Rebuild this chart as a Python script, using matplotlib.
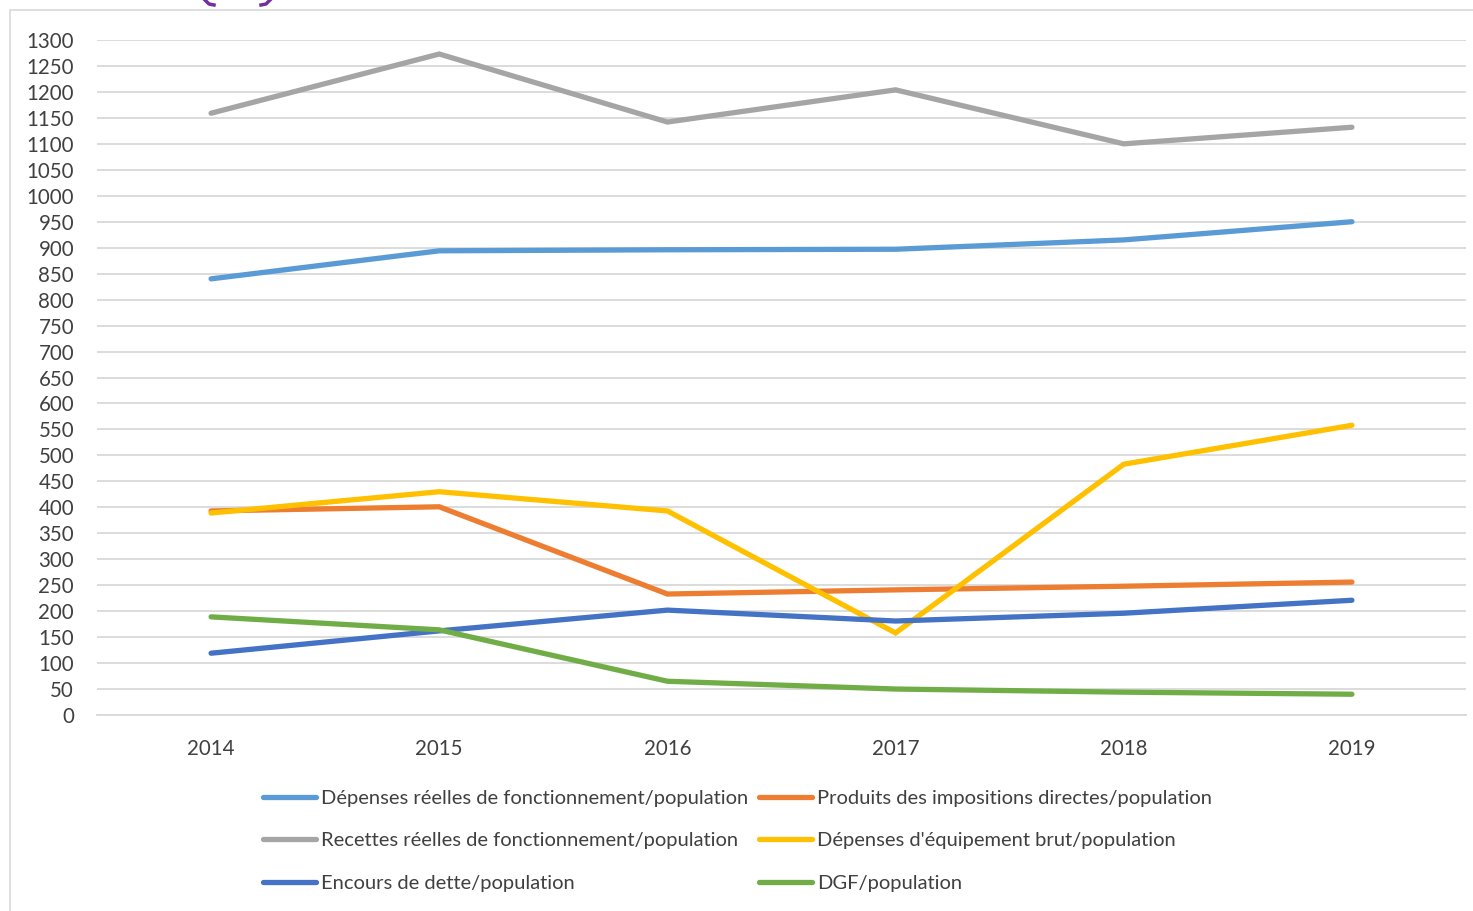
import matplotlib.pyplot as plt
from matplotlib.lines import Line2D
from matplotlib.patches import Rectangle

plt.rcParams['font.family'] = ['Lato', 'DejaVu Sans']

annees = ['2014', '2015', '2016', '2017', '2018', '2019']

depenses_fonct = [840, 894, 896, 897, 915, 950]
produits_impos = [393, 401, 233, 241, 248, 256]
recettes_fonct = [1159, 1273, 1142, 1204, 1100, 1132]
depenses_equip = [389, 430, 393, 158, 483, 558]
encours_dette = [119, 162, 202, 181, 196, 221]
dgf = [189, 164, 65, 50, 44, 40]

labels = ['Dépenses réelles de fonctionnement/population',
          'Produits des impositions directes/population',
          'Recettes réelles de fonctionnement/population',
          "Dépenses d'équipement brut/population",
          'Encours de dette/population',
          'DGF/population']
couleurs = ['#5B9BD5', '#ED7D31', '#A5A5A5', '#FFC000', '#4472C4', '#70AD47']
series = [depenses_fonct, produits_impos, recettes_fonct,
          depenses_equip, encours_dette, dgf]

W, H = 1473, 911
fig = plt.figure(figsize=(W/100, H/100), dpi=100)
# cadre du graphique
fig.patches.append(Rectangle((10/W, -0.1), 1.5, (H-10)/H + 0.1,
                             transform=fig.transFigure, fill=False,
                             edgecolor='#d9d9d9', linewidth=1.2))
# bouts de forme violette coupés en haut de l'image
for xs in ([205, 209, 214], [270, 266, 261]):
    fig.add_artist(Line2D([v/W for v in xs], [1, 1-4/H, 1-5/H],
                          transform=fig.transFigure, color='#7030A0',
                          linewidth=2.5))

ax = fig.add_axes([97/W, 1-715/H, (1466-97)/W, (715-40)/H])
x = list(range(len(annees)))
lignes = []
for s, c, lab in zip(series, couleurs, labels):
    l, = ax.plot(x, s, color=c, linewidth=3.8, solid_capstyle='round',
                 solid_joinstyle='miter', label=lab)
    lignes.append(l)

ax.set_xlim(-0.5, len(annees) - 0.5)
ax.set_ylim(0, 1300)
ax.set_yticks(range(0, 1301, 50))
ax.set_xticks(x)
ax.set_xticklabels(annees)
ax.yaxis.grid(True, color='#d9d9d9', linewidth=1.3)
ax.set_axisbelow(True)
for sp in ['top', 'right', 'left']:
    ax.spines[sp].set_visible(False)
ax.spines['bottom'].set_color('#d9d9d9')
ax.spines['bottom'].set_linewidth(1.3)
ax.tick_params(axis='both', length=0, labelsize=14.8, colors='#404040')
ax.tick_params(axis='y', pad=16.5)
ax.tick_params(axis='x', pad=17.5)

ordre = [0, 2, 4, 1, 3, 5]
leg = fig.legend([lignes[i] for i in ordre], [labels[i] for i in ordre],
                 ncol=2, loc='upper left', bbox_to_anchor=(245/W, 1-772/H),
                 frameon=False, fontsize=14.5, handlelength=2.63,
                 handletextpad=0.25, columnspacing=0.55, labelspacing=1.25,
                 labelcolor='#404040')

fig.savefig('out.png', dpi=100)
